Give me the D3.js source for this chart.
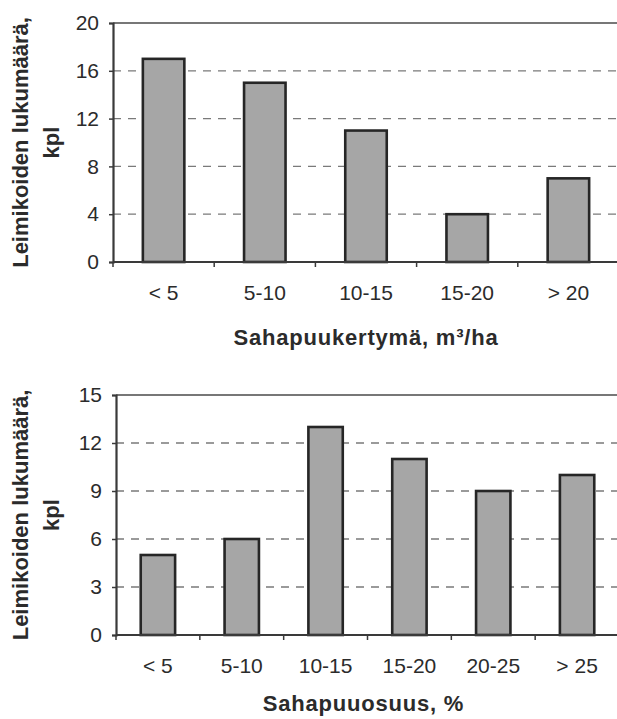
<!DOCTYPE html>
<html><head><meta charset="utf-8">
<script src="https://cdn.jsdelivr.net/npm/d3@7"></script>
<style>
html,body{margin:0;padding:0;background:#fff;}
svg{display:block;}
text{font-family:"Liberation Sans",Arial,sans-serif;fill:#2b2b2b;}
</style></head>
<body>
<svg id="c" width="617" height="719"></svg>
<script>
// Chart 1
const categories1 = ["< 5", "5-10", "10-15", "15-20", "> 20"];
const values1 = [17, 15, 11, 4, 7];
const yTicks1 = [0, 4, 8, 12, 16, 20];
const xTitle1 = "Sahapuukertymä, m³/ha";
// Chart 2
const categories2 = ["< 5", "5-10", "10-15", "15-20", "20-25", "> 25"];
const values2 = [5, 6, 13, 11, 9, 10];
const yTicks2 = [0, 3, 6, 9, 12, 15];
const xTitle2 = "Sahapuuosuus, %";
const yTitleLines = ["Leimikoiden lukumäärä,", "kpl"];

const svg = d3.select("#c");

function drawChart(cfg) {
  const {cats, vals, ticks, xTitle, left, right, top, bottom} = cfg;
  const g = svg.append("g");
  const x = d3.scaleBand().domain(cats).range([left, right]).paddingInner(0).paddingOuter(0);
  const y = d3.scaleLinear().domain([0, ticks[ticks.length - 1]]).range([bottom, top]);

  // gridlines
  g.selectAll("line.grid").data(ticks.slice(1, -1)).join("line")
    .attr("x1", left).attr("x2", right)
    .attr("y1", d => y(d)).attr("y2", d => y(d))
    .attr("stroke", "#7a7a7a").attr("stroke-width", 1.3)
    .attr("stroke-dasharray", "8,7");

  // top border
  g.append("line").attr("x1", left).attr("x2", right + 2)
    .attr("y1", y(ticks[ticks.length - 1])).attr("y2", y(ticks[ticks.length - 1]))
    .attr("stroke", "#777").attr("stroke-width", 2.2);
  // right border
  g.append("line").attr("x1", right).attr("x2", right)
    .attr("y1", top).attr("y2", bottom)
    .attr("stroke", "#999").attr("stroke-width", 1.2);

  // bars
  const bw = x.bandwidth() * 0.41;
  g.selectAll("rect.bar").data(vals).join("rect")
    .attr("x", (d, i) => x(cats[i]) + x.bandwidth() / 2 - bw / 2)
    .attr("y", d => y(d))
    .attr("width", bw)
    .attr("height", d => y(0) - y(d))
    .attr("fill", "#a6a6a6")
    .attr("stroke", "#262626").attr("stroke-width", 2.6);

  // y axis
  const yAxis = d3.axisLeft(y).tickValues(ticks).tickSize(4).tickPadding(10);
  const ya = g.append("g").attr("transform", `translate(${left},0)`).call(yAxis);
  ya.select(".domain").attr("stroke", "#3a3a3a").attr("stroke-width", 2.2);
  ya.selectAll(".tick line").attr("stroke", "#3a3a3a").attr("stroke-width", 1.5);
  ya.selectAll(".tick text").style("font-size", "21px").attr("fill", "#2b2b2b")
    .style("font-family", '"Liberation Sans",Arial,sans-serif');

  // x axis
  const xAxis = d3.axisBottom(x).tickSize(0).tickPadding(0);
  const xa = g.append("g").attr("transform", `translate(0,${bottom})`).call(xAxis);
  xa.select(".domain").remove();
  xa.selectAll(".tick text").attr("y", 31).attr("dy", "0.35em")
    .style("font-size", "21px").attr("fill", "#2b2b2b")
    .style("font-family", '"Liberation Sans",Arial,sans-serif');
  g.append("line").attr("x1", left).attr("x2", right + 2).attr("y1", bottom).attr("y2", bottom)
    .attr("stroke", "#3a3a3a").attr("stroke-width", 2.2);
  // category boundary ticks
  const bounds = cats.map(c => x(c));
  g.selectAll("line.xt").data(bounds).join("line")
    .attr("x1", d => d).attr("x2", d => d)
    .attr("y1", bottom).attr("y2", bottom + 5)
    .attr("stroke", "#3a3a3a").attr("stroke-width", 1.5);

  // x title
  g.append("text").attr("x", (left + right) / 2 + cfg.xTitleShift).attr("y", bottom + cfg.xTitleOffset)
    .attr("text-anchor", "middle").attr("dy", "0.35em")
    .style("font-size", "22px").style("font-weight", "bold").style("letter-spacing", "0.8px")
    .text(xTitle);

  // y title
  const cy = (top + bottom) / 2;
  const yt = [20, 51];
  yTitleLines.forEach((t, i) => {
    g.append("text").attr("transform", `translate(${yt[i]},${cy}) rotate(-90)`)
      .attr("text-anchor", "middle").attr("dy", "0.35em")
      .style("font-size", "22px").style("font-weight", "bold")
      .text(t);
  });
}

drawChart({cats: categories1, vals: values1, ticks: yTicks1, xTitle: xTitle1,
  left: 113, right: 619, top: 23, bottom: 262, xTitleOffset: 75, xTitleShift: 0});
drawChart({cats: categories2, vals: values2, ticks: yTicks2, xTitle: xTitle2,
  left: 116, right: 619, top: 395, bottom: 635, xTitleOffset: 68, xTitleShift: -4});
</script>
</body></html>
